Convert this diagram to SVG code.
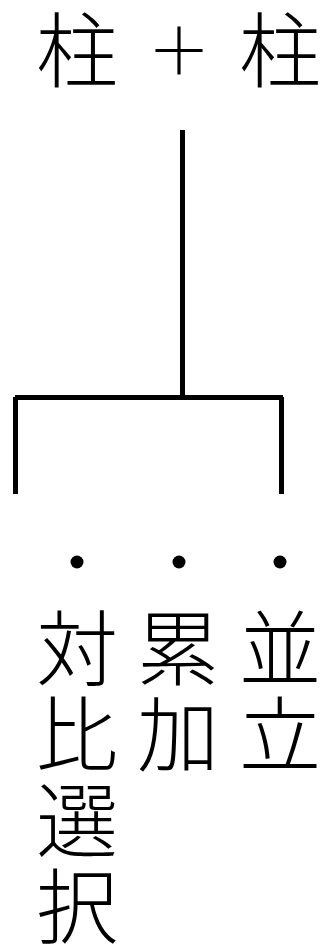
<svg xmlns="http://www.w3.org/2000/svg" width="326" height="948" viewBox="0 0 326 948">
<style>
.t{font-family:"Noto Sans CJK JP","Noto Sans CJK SC",sans-serif;font-size:82px;font-weight:300;fill:#000;text-anchor:middle}
.p{font-size:64px}
.c{stroke:#000;stroke-width:5;fill:none;stroke-linecap:butt}
.d{fill:#000}
</style>
<rect width="326" height="948" fill="#fff"/>
<g id="root">
<text class="t" x="77 128" y="81">柱 <tspan class="p" x="179" y="74">＋</tspan><tspan x="230 280" y="81"> 柱</tspan></text>
</g>
<g id="connectors">
<path class="c" d="M182.5 130V397.5M15 397.5H283M15.5 397V494M281.5 397V494"/>
</g>
<g id="leaf1">
<circle class="d" cx="77" cy="562" r="6.5"/>
<text class="t" y="679"><tspan x="77">対</tspan><tspan x="77" dy="86">比</tspan><tspan x="77" dy="86">選</tspan><tspan x="77" dy="86">択</tspan></text>
</g>
<g id="leaf2">
<circle class="d" cx="179" cy="562" r="6.5"/>
<text class="t" y="679"><tspan x="178">累</tspan><tspan x="178" dy="86">加</tspan></text>
</g>
<g id="leaf3">
<circle class="d" cx="280" cy="562" r="6.5"/>
<text class="t" y="679"><tspan x="280">並</tspan><tspan x="280" dy="86">立</tspan></text>
</g>
</svg>
